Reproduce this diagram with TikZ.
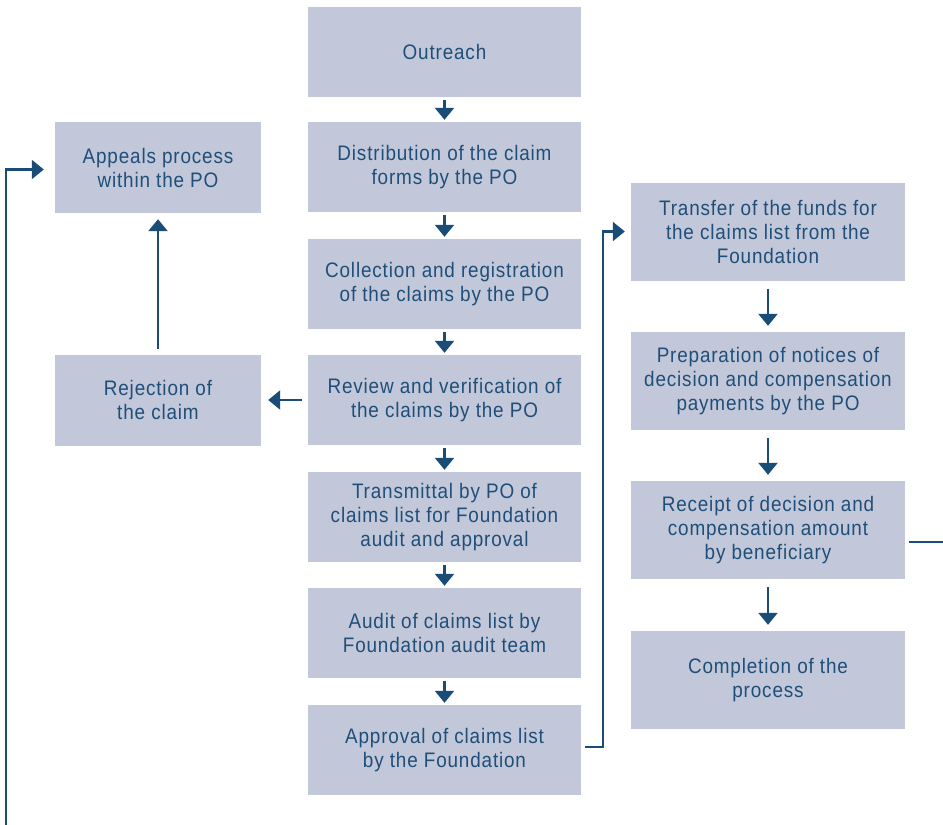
\documentclass[tikz,border=0pt]{standalone}
\usepackage{fontspec}
\setmainfont{Liberation Sans}[FakeStretch=0.9,LetterSpace=4]
\usetikzlibrary{arrows.meta}
\definecolor{boxfill}{HTML}{C2C8DA}
\definecolor{txtblue}{HTML}{1F4E79}
\definecolor{lineblue}{HTML}{1A4C78}
\begin{document}
\begin{tikzpicture}[x=1pt,y=-1pt,
  box/.style={fill=boxfill,draw=none,inner sep=0pt,align=center,text=txtblue,
    font=\fontsize{21}{24}\selectfont},
  cbox/.style={box,minimum width=273pt,minimum height=90pt},
  lbox/.style={box,minimum width=206pt,minimum height=91pt},
  rbox/.style={box,minimum width=274pt,minimum height=98pt},
  arr/.style={draw=lineblue,line width=2.4pt,
    -{Triangle[length=12pt,width=19pt]}},
  conn/.style={draw=lineblue,line width=2.2pt}]
\useasboundingbox (0,0) rectangle (943,825);
% centre column
\node[cbox] (outreach) at (444.5,51.5) {Outreach};
\node[cbox] (distrib) at (444.5,167) {Distribution of the claim\\forms by the PO};
\node[cbox] (collect) at (444.5,284) {Collection and registration\\of the claims by the PO};
\node[cbox] (review) at (444.5,400) {Review and verification of\\the claims by the PO};
\node[cbox] (transmit) at (444.5,517) {Transmittal by PO of\\claims list for Foundation\\audit and approval};
\node[cbox] (audit) at (444.5,633) {Audit of claims list by\\Foundation audit team};
\node[cbox] (approval) at (444.5,750) {Approval of claims list\\by the Foundation};
% left column
\node[lbox] (appeals) at (158,167.5) {Appeals process\\within the PO};
\node[lbox] (reject) at (158,400) {Rejection of\\the claim};
% right column
\node[rbox] (transfer) at (768,231.5) {Transfer of the funds for\\the claims list from the\\Foundation};
\node[rbox] (prepare) at (768,381) {Preparation of notices of\\decision and compensation\\payments by the PO};
\node[rbox] (receipt) at (768,530) {Receipt of decision and\\compensation amount\\by beneficiary};
\node[rbox] (complete) at (768,680) {Completion of the\\process};
% centre arrows
\foreach \a/\b in {outreach/distrib,distrib/collect,collect/review,review/transmit,transmit/audit,audit/approval}
  \draw[arr,shorten <=3pt,shorten >=2pt] (\a.south) -- (\b.north);
% right arrows
\foreach \a/\b in {transfer/prepare,prepare/receipt,receipt/complete}
  \draw[arr,shorten <=8pt,shorten >=6pt] (\a.south) -- (\b.north);
% rejection
\draw[arr,shorten <=6pt,shorten >=7pt] (review.west) -- (reject.east);
\draw[arr,shorten <=5pt,shorten >=6pt] (reject.north) -- (appeals.south);
% approval to transfer
\draw[arr,shorten >=6pt] ([xshift=4pt,yshift=3pt]approval.east) -- ++(18,0) |- (transfer.west);
% receipt line out to the right edge
\coordinate (outR) at (943,542);
\draw[conn] ([xshift=4pt,yshift=-12pt]receipt.east) -- (outR);
% long line from the bottom left edge to appeals
\coordinate (outL) at (6,825);
\draw[arr,line width=2.2pt,shorten >=11pt] (outL) |- ([yshift=-2pt]appeals.west);
\end{tikzpicture}
\end{document}
